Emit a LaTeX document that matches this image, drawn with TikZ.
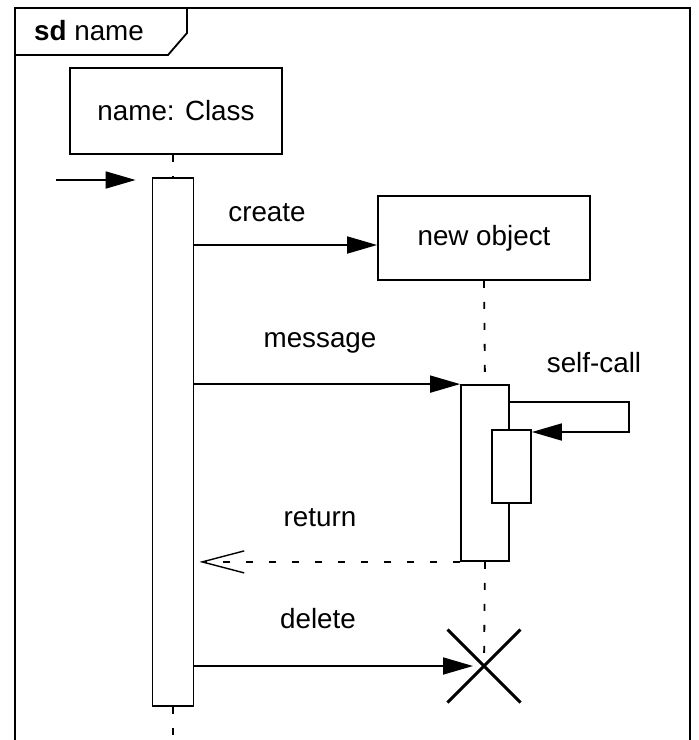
\documentclass[tikz,border=0pt]{standalone}
\usepackage{fontspec}
\setmainfont{Liberation Sans}
\usetikzlibrary{arrows.meta,shapes.misc}

\tikzset{
	head/.style={draw, line width=0.9pt, minimum width=106pt, minimum height=43pt, inner sep=0pt},
	bar/.style={draw, fill=white, line width=0.9pt, minimum width=20.5pt, inner sep=0pt},
	life/.style={line width=0.9pt, dash pattern=on 3.5pt off 7pt},
	msg/.style={line width=0.9pt, -{Triangle[length=15pt,width=8.5pt]}},
	ret/.style={line width=0.7pt, dash pattern=on 3.5pt off 8pt, -{Straight Barb[length=21pt,width=11pt]}},
}

\begin{document}
\begin{tikzpicture}[x=0.5pt,y=-0.5pt,font=\fontsize{13.9}{16}\selectfont]
		\useasboundingbox (0,0) rectangle (698,740);
	% frame
		\draw[line width=0.9pt] (15,760) -- (15,8) -- (690,8) -- (690,760);
		\draw[line width=0.9pt] (15,55) -- (168,55) -- (187,33) -- (187,8);
		\node (sd) at (89,31) {\textbf{sd} name};
	% lifelines
		\node[head] (C) at (176,111) {name: Class};
		\node[bar, minimum height=264pt] (A1) at (173,442) {};
		\node[head, minimum height=42pt] (N) at (484,238) {new object};
		\node[bar, minimum width=24pt, minimum height=88pt] (A2) at (485,473) {};
		\node[bar, minimum width=19.5pt, minimum height=36.5pt] (S) at (511.5,466.5) {};
		\node[cross out, draw, line width=1.5pt, minimum size=35pt, inner sep=0pt] (X) at (484,666) {};
		\coordinate (E1) at (173,760);
		\draw[life] (A1.north |- C.south) -- (A1.north);
		\draw[life] (A1.south) -- (E1);
		\draw[life] (N.south) -- (A2.north);
		\draw[life] (A2.south) -- (X.center);
	% messages
		\coordinate (F) at (56,180);
		\coordinate (m1) at (0,245);
		\coordinate (s1) at (629,402);
		\coordinate (s2) at (629,432);
		\draw[msg, shorten >=8pt] (F) -- (F -| A1.west);
		\draw[msg] (A1.east |- m1) -- (N.west |- m1);
		\draw[msg] (A1.east |- A2.north) -- (A2.north west);
		\draw[msg] (A2.east |- s1) -- (s1) -- (s2) -- (S.east |- s2);
		\draw[ret, shorten >=2.5pt] (A2.south west) -- (A1.east |- A2.south);
		\draw[msg, shorten >=5.5pt] (A1.east |- X) -- (X.center);
	% labels
		\node (create) at (267,213) {create};
		\node (message) at (320,343) {message};
		\node (selfcall) at (594,363) {self-call};
		\node (return) at (320,518) {return};
		\node (delete) at (318,619) {delete};
	\end{tikzpicture}
\end{document}
